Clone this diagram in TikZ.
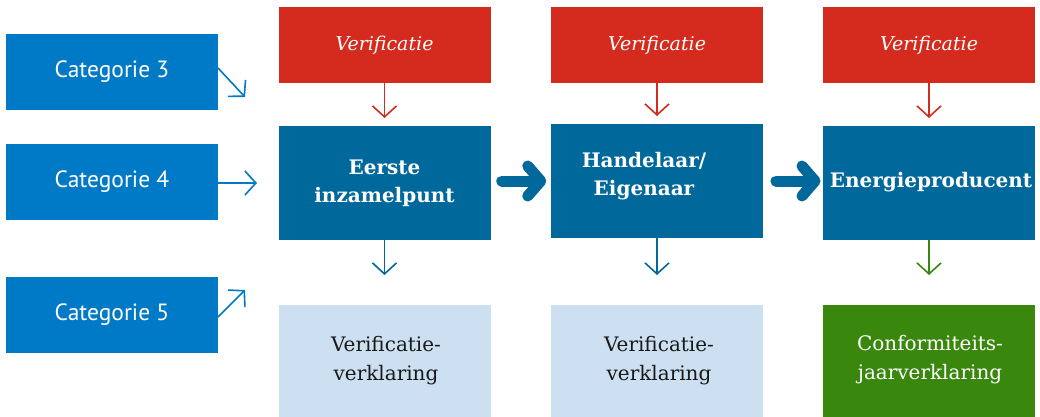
\documentclass[tikz,border=0pt]{standalone}
\usepackage{fontspec}
\setmainfont{DejaVu Serif}
\setsansfont{PT Sans}
\usetikzlibrary{arrows.meta,calc}
\definecolor{catblue}{HTML}{0079C6}
\definecolor{darkblue}{HTML}{01689B}
\definecolor{rijksred}{HTML}{D52B1E}
\definecolor{lightblue}{HTML}{CCE0F1}
\definecolor{rijksgreen}{HTML}{39870C}
\tikzset{
  box/.style={rectangle, inner sep=0pt, outer sep=0pt, minimum width=212pt, align=center},
  catbox/.style={box, fill=catblue, text=white, minimum height=76pt, font=\sffamily\fontsize{23.5}{26}\selectfont},
  verbox/.style={box, fill=rijksred, text=white, minimum height=76pt, font=\itshape\fontsize{19}{22}\selectfont},
  actbox/.style={box, fill=darkblue, text=white, minimum height=114pt},
  outbox/.style={box, fill=lightblue, minimum height=115pt},
  greenbox/.style={box, fill=rijksgreen, minimum height=115pt},
  acttext/.style={text=white, font=\bfseries\fontsize{20}{28}\selectfont, align=center},
  outtext/.style={font=\fontsize{20}{29}\selectfont, align=center},
  thinarrow/.style={line width=1.6pt, -{Straight Barb[length=11pt,width=24pt,line width=1.6pt]}},
  bigarrow/.style={line width=11pt, line cap=round, line join=round, darkblue},
}
\begin{document}
\begin{tikzpicture}[x=1pt,y=-1pt]
\useasboundingbox[fill=white] (0,0) rectangle (1040,416);
% category boxes
\node[catbox] (c3) at (112,72) {Categorie 3};
\node[catbox] (c4) at (112,182) {Categorie 4};
\node[catbox] (c5) at (112,315) {Categorie 5};
% verification boxes
\node[verbox] (v1) at (384.5,45) {Verificatie};
\node[verbox] (v2) at (657,45) {Verificatie};
\node[verbox] (v3) at (929,45) {Verificatie};
% actor boxes
\node[actbox] (e1) at (384.5,183) {};
\node[actbox] (e2) at (657,181) {};
\node[actbox] (e3) at (929,183) {};
\node[acttext] (t1) at (e1.center) {Eerste\\inzamelpunt};
\node[acttext] (t2) at (644,176) {Handelaar/\\Eigenaar};
\node[acttext, inner sep=0pt] (t3) at (931,182) {Energieproducent};
% output boxes
\node[outbox] (o1) at (384.5,362.5) {};
\node[outbox] (o2) at (657,362.5) {};
\node[greenbox] (o3) at (929,362.5) {};
\node[outtext, text=black!90] (u1) at (386,361) {Verificatie-\\verklaring};
\node[outtext, text=black!90] (u2) at (659,361) {Verificatie-\\verklaring};
\node[outtext, text=white] (u3) at (930,360) {Conformiteits-\\jaarverklaring};
% category arrows
\coordinate (a3) at (245,97);
\coordinate (a4) at (257,183);
\coordinate (a5) at (245,290);
\draw[thinarrow, catblue] ([yshift=4pt]c3.east) -- (a3);
\draw[thinarrow, catblue] ([yshift=-1pt]c4.east) -- (a4);
\draw[thinarrow, catblue] ([yshift=-2pt]c5.east) -- (a5);
% red arrows
\draw[thinarrow, rijksred, shorten >=8pt] (v1) -- (e1);
\draw[thinarrow, rijksred, shorten >=8pt] (v2) -- (e2);
\draw[thinarrow, rijksred, shorten >=8pt] (v3) -- (e3);
% down arrows
\draw[thinarrow, darkblue, shorten >=30pt] (e1) -- (o1);
\draw[thinarrow, darkblue, shorten >=30pt] (e2) -- (o2);
\draw[thinarrow, rijksgreen, shorten >=30pt] (e3) -- (o3);
% big arrows
\coordinate (m1) at ($(e1.east)!0.5!(e2.west)+(0,-1)$);
\coordinate (m2) at ($(e2.east)!0.5!(e3.west)+(2,-1)$);
\foreach \m in {m1,m2}{
  \draw[bigarrow] ($(\m)+(-19,0)$) -- ($(\m)+(16,0)$);
  \draw[bigarrow] ($(\m)+(7,-15)$) -- ($(\m)+(20,0)$) -- ($(\m)+(7,15)$);
}
\end{tikzpicture}
\end{document}
